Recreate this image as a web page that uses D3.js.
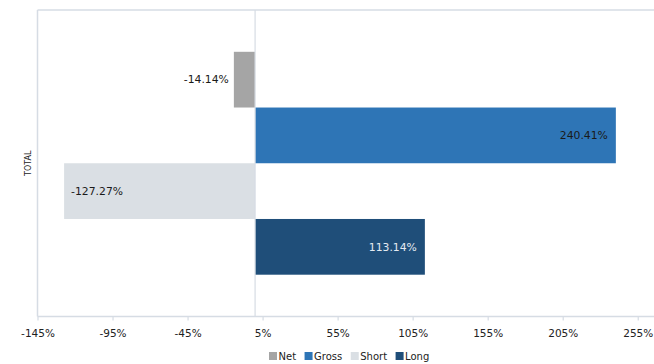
<!DOCTYPE html>
<html>
<head>
<meta charset="utf-8">
<script src="https://cdn.jsdelivr.net/npm/d3@7"></script>
<style>
  html, body { margin: 0; padding: 0; background: #fff; }
  svg { display: block; }
  text { font-family: "DejaVu Sans", Verdana, sans-serif; }
</style>
</head>
<body>
<svg id="chart" width="654" height="364"></svg>
<script>
// Exposure breakdown for the total portfolio (values in %)
const categories = ["TOTAL"];
const seriesNames = ["Net", "Gross", "Short", "Long"];
const seriesValues = [-14.14, 240.41, -127.27, 113.14];
const seriesColors = ["#a5a5a5", "#2e75b6", "#dadfe4", "#1f4e79"];
const tickValues = [-145, -95, -45, 5, 55, 105, 155, 205, 255];

const W = 654, H = 364;
const plot = { left: 37.5, right: 655, top: 10, bottom: 316.5 };
const svg = d3.select("#chart");

const x = d3.scaleLinear().domain([-145, 266.5]).range([plot.left, plot.right]);
const yCat = d3.scaleBand().domain(categories).range([plot.top, plot.bottom])
  .paddingInner(0).paddingOuter(0.1875);
const ySer = d3.scaleBand().domain(seriesNames).range([0, yCat.bandwidth()]).padding(0);
const color = d3.scaleOrdinal().domain(seriesNames).range(seriesColors);

const data = seriesNames.map((s, i) => ({ cat: categories[0], name: s, value: seriesValues[i] }));

const lineColor = "#d6dce4";

// frame: top and left borders
svg.append("line").attr("x1", plot.left).attr("x2", W).attr("y1", plot.top).attr("y2", plot.top)
  .attr("stroke", lineColor).attr("stroke-width", 1.5);
svg.append("line").attr("x1", plot.left).attr("x2", plot.left).attr("y1", plot.top).attr("y2", plot.bottom)
  .attr("stroke", lineColor).attr("stroke-width", 1.5);

// bars
svg.append("g").selectAll("rect").data(data).join("rect")
  .attr("x", d => x(Math.min(0, d.value)))
  .attr("width", d => Math.abs(x(d.value) - x(0)))
  .attr("y", d => yCat(d.cat) + ySer(d.name))
  .attr("height", ySer.bandwidth())
  .attr("fill", d => color(d.name));

// zero line
svg.append("line").attr("x1", x(0)).attr("x2", x(0)).attr("y1", plot.top).attr("y2", plot.bottom)
  .attr("stroke", lineColor).attr("stroke-width", 1.2);

// bottom axis
const xAxis = d3.axisBottom(x).tickValues(tickValues).tickSize(4).tickPadding(9)
  .tickFormat(d => d + "%");
const gx = svg.append("g").attr("transform", `translate(0,${plot.bottom})`).call(xAxis);
gx.select(".domain").attr("stroke", lineColor).attr("stroke-width", 1.5)
  .attr("d", `M${plot.left},0H${W}`);
gx.selectAll(".tick line").attr("stroke", lineColor).attr("stroke-width", 1.2);
gx.selectAll(".tick text").attr("fill", "#222").style("font-size", "10.5px")
  .style("font-family", "'DejaVu Sans', Verdana, sans-serif");

// value labels (plain hyphen for negatives)
const fmt = v => v.toFixed(2) + "%";
svg.append("g").selectAll("text").data(data).join("text")
  .attr("y", d => yCat(d.cat) + ySer(d.name) + ySer.bandwidth() / 2)
  .attr("dy", "0.35em")
  .style("font-size", "10.8px")
  .attr("x", d => {
    if (d.name === "Net") return x(d.value) - 5;
    return d.value >= 0 ? x(d.value) - 8 : x(d.value) + 7;
  })
  .attr("text-anchor", d => d.name === "Net" ? "end" : (d.value >= 0 ? "end" : "start"))
  .attr("fill", d => d.name === "Long" ? "#e4eaf2" : "#1a1a1a")
  .text(d => fmt(d.value));

// category label
svg.append("text")
  .attr("transform", `translate(31,${yCat(categories[0]) + yCat.bandwidth() / 2}) rotate(-90)`)
  .attr("text-anchor", "middle")
  .attr("fill", "#222")
  .style("font-size", "8px")
  .text(categories[0]);

// legend
const legend = svg.append("g").attr("transform", "translate(269,356)");
let lx = 0;
seriesNames.forEach(name => {
  const g = legend.append("g").attr("transform", `translate(${lx},0)`);
  g.append("rect").attr("x", 0).attr("y", -4).attr("width", 8).attr("height", 8)
    .attr("fill", color(name));
  const t = g.append("text").attr("x", 9.5).attr("y", 0).attr("dy", "0.36em")
    .attr("fill", "#222").style("font-size", "10px").text(name);
  lx += 9.5 + t.node().getComputedTextLength() + 8.5;
});
</script>
</body>
</html>
